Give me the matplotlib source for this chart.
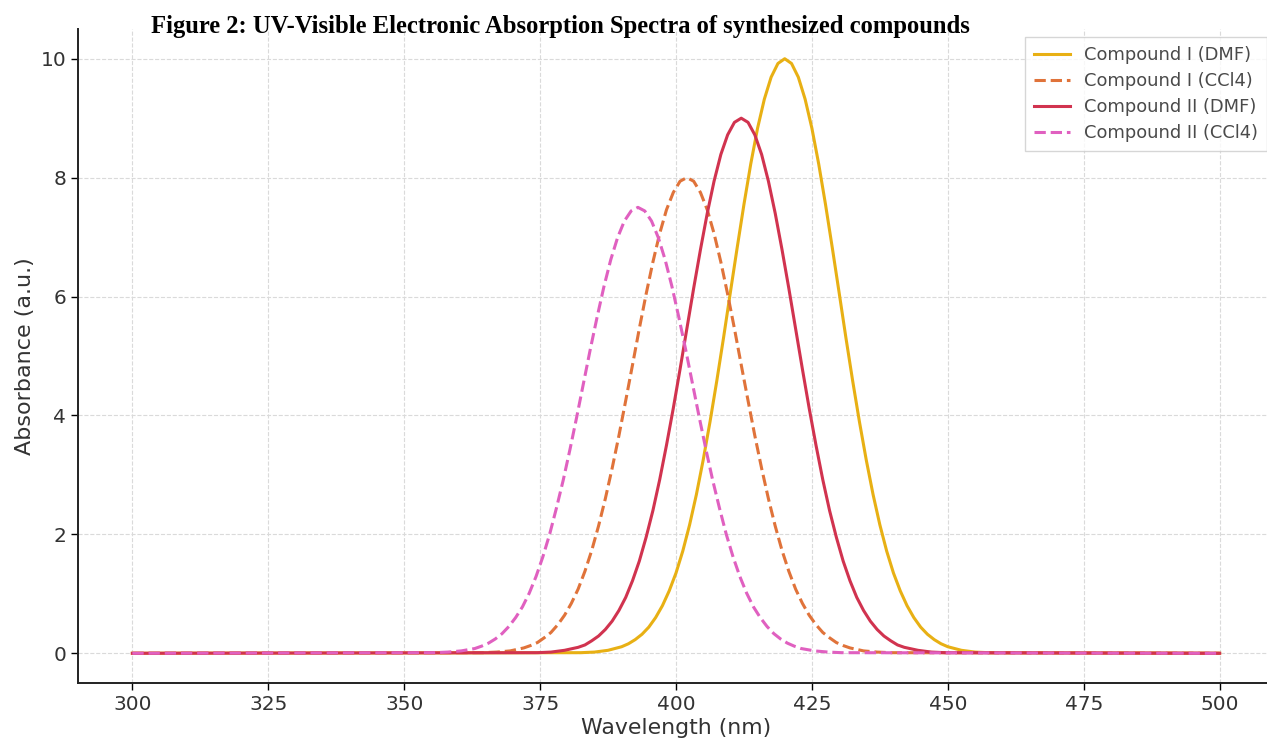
import matplotlib
matplotlib.use("Agg")
import matplotlib.pyplot as plt

# Wavelength (nm) / absorbance (a.u.)
wl_c1_dmf = [300, 382.5, 385, 387.5, 390, 391.25, 392.5, 393.75, 395, 396.25, 397.5, 398.75, 400, 401.25,
             402.5, 403.75, 405, 406.25, 407.5, 408.75, 410, 411.25, 412.5, 413.75, 415, 416.25, 417.5, 418.75,
             420, 421.25, 422.5, 423.75, 425, 426.25, 427.5, 428.75, 430, 431.25, 432.5, 433.75, 435, 436.25,
             437.5, 438.75, 440, 441.25, 442.5, 443.75, 445, 446.25, 447.5, 448.75, 450, 452.5, 455, 457.5, 500]
abs_c1_dmf = [0, 0.01, 0.02, 0.05, 0.11, 0.16, 0.23, 0.32, 0.44, 0.60, 0.80, 1.05, 1.35, 1.72,
              2.16, 2.67, 3.25, 3.89, 4.58, 5.31, 6.07, 6.82, 7.55, 8.23, 8.83, 9.32, 9.69, 9.92,
              10.0, 9.92, 9.69, 9.32, 8.83, 8.23, 7.55, 6.82, 6.07, 5.31, 4.58, 3.89, 3.25, 2.67,
              2.16, 1.72, 1.35, 1.05, 0.80, 0.60, 0.44, 0.32, 0.23, 0.16, 0.11, 0.05, 0.02, 0.01, 0]

wl_c1_ccl4 = [300, 364.5, 367, 369.5, 372, 373.25, 374.5, 375.75, 377, 378.25, 379.5, 380.75, 382, 383.25,
              384.5, 385.75, 387, 388.25, 389.5, 390.75, 392, 393.25, 394.5, 395.75, 397, 398.25, 399.5, 400.75,
              402, 403.25, 404.5, 405.75, 407, 408.25, 409.5, 410.75, 412, 413.25, 414.5, 415.75, 417, 418.25,
              419.5, 420.75, 422, 423.25, 424.5, 425.75, 427, 428.25, 429.5, 430.75, 432, 434.5, 437, 439.5, 500]
abs_c1_ccl4 = [0, 0.01, 0.02, 0.04, 0.09, 0.13, 0.18, 0.26, 0.35, 0.48, 0.64, 0.84, 1.08, 1.38,
               1.73, 2.14, 2.60, 3.11, 3.66, 4.25, 4.85, 5.46, 6.04, 6.58, 7.06, 7.46, 7.75, 7.94,
               8.0, 7.94, 7.75, 7.46, 7.06, 6.58, 6.04, 5.46, 4.85, 4.25, 3.66, 3.11, 2.60, 2.14,
               1.73, 1.38, 1.08, 0.84, 0.64, 0.48, 0.35, 0.26, 0.18, 0.13, 0.09, 0.04, 0.02, 0.01, 0]

wl_c2_dmf = [300, 374.5, 377, 379.5, 382, 383.25, 384.5, 385.75, 387, 388.25, 389.5, 390.75, 392, 393.25,
             394.5, 395.75, 397, 398.25, 399.5, 400.75, 402, 403.25, 404.5, 405.75, 407, 408.25, 409.5, 410.75,
             412, 413.25, 414.5, 415.75, 417, 418.25, 419.5, 420.75, 422, 423.25, 424.5, 425.75, 427, 428.25,
             429.5, 430.75, 432, 433.25, 434.5, 435.75, 437, 438.25, 439.5, 440.75, 442, 444.5, 447, 449.5, 500]
abs_c2_dmf = [0, 0.01, 0.02, 0.05, 0.10, 0.14, 0.21, 0.29, 0.40, 0.54, 0.72, 0.94, 1.22, 1.55,
              1.95, 2.40, 2.92, 3.50, 4.12, 4.78, 5.46, 6.14, 6.79, 7.40, 7.94, 8.39, 8.72, 8.93,
              9.0, 8.93, 8.72, 8.39, 7.94, 7.40, 6.79, 6.14, 5.46, 4.78, 4.12, 3.50, 2.92, 2.40,
              1.95, 1.55, 1.22, 0.94, 0.72, 0.54, 0.40, 0.29, 0.21, 0.14, 0.10, 0.05, 0.02, 0.01, 0]

wl_c2_ccl4 = [300, 355.5, 358, 360.5, 363, 364.25, 365.5, 366.75, 368, 369.25, 370.5, 371.75, 373, 374.25,
              375.5, 376.75, 378, 379.25, 380.5, 381.75, 383, 384.25, 385.5, 386.75, 388, 389.25, 390.5, 391.75,
              393, 394.25, 395.5, 396.75, 398, 399.25, 400.5, 401.75, 403, 404.25, 405.5, 406.75, 408, 409.25,
              410.5, 411.75, 413, 414.25, 415.5, 416.75, 418, 419.25, 420.5, 421.75, 423, 425.5, 428, 430.5, 500]
abs_c2_ccl4 = [0, 0.01, 0.02, 0.04, 0.08, 0.12, 0.17, 0.24, 0.33, 0.45, 0.60, 0.78, 1.01, 1.29,
               1.62, 2.00, 2.44, 2.91, 3.43, 3.98, 4.55, 5.12, 5.66, 6.17, 6.62, 6.99, 7.27, 7.44,
               7.5, 7.44, 7.27, 6.99, 6.62, 6.17, 5.66, 5.12, 4.55, 3.98, 3.43, 2.91, 2.44, 2.00,
               1.62, 1.29, 1.01, 0.78, 0.60, 0.45, 0.33, 0.24, 0.17, 0.12, 0.08, 0.04, 0.02, 0.01, 0]

labels = ["Compound I (DMF)", "Compound I (CCl4)", "Compound II (DMF)", "Compound II (CCl4)"]
x_ticks = [300, 325, 350, 375, 400, 425, 450, 475, 500]
y_ticks = [0, 2, 4, 6, 8, 10]

fig = plt.figure(figsize=(12.67, 7.38), dpi=100)
ax = fig.add_axes([78 / 1267, 55 / 738, 1196 / 1267, 654 / 738])

ax.plot(wl_c1_dmf, abs_c1_dmf, color="#e8b014", lw=2.2, label=labels[0])
ax.plot(wl_c1_ccl4, abs_c1_ccl4, color="#e0733a", lw=2.2, ls="--", label=labels[1])
ax.plot(wl_c2_dmf, abs_c2_dmf, color="#d1334f", lw=2.2, label=labels[2])
ax.plot(wl_c2_ccl4, abs_c2_ccl4, color="#e060c0", lw=2.2, ls="--", label=labels[3])

ax.set_xlim(290, 510)
ax.set_ylim(-0.5, 10.5)
ax.set_xticks(x_ticks)
ax.set_yticks(y_ticks)
ax.grid(True, color="#dadada", ls="--", lw=0.8)
for s in ["top", "right"]:
    ax.spines[s].set_visible(False)
for s in ["left", "bottom"]:
    ax.spines[s].set_linewidth(1.4)
    ax.spines[s].set_color("#222222")
ax.tick_params(labelsize=14.5, labelcolor="#333333", length=5, width=1)
ax.set_xlabel("Wavelength (nm)", fontsize=15.8, color="#333333", labelpad=3)
ax.set_ylabel("Absorbance (a.u.)", fontsize=16, color="#333333", labelpad=4)

leg = fig.legend(loc="upper left", bbox_to_anchor=(1025 / 1267, 1 - 37 / 738), borderaxespad=0,
                 fontsize=12.9, frameon=True, fancybox=False, edgecolor="#cccccc", handlelength=2.0,
                 borderpad=0.5, labelspacing=0.45)
for t in leg.get_texts():
    t.set_color("#4a4a4a")

fig.text(560 / 1267, 1 - 27 / 738, "Figure 2: UV-Visible Electronic Absorption Spectra of synthesized compounds",
         ha="center", va="center", fontsize=17.7, fontweight="bold", family="Liberation Serif")

fig.savefig("out.png", dpi=100)
